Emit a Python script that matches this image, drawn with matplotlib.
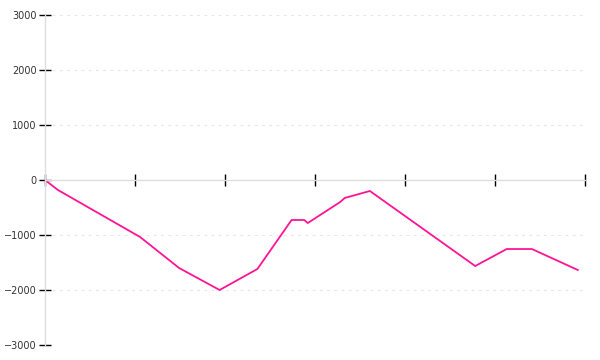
import matplotlib
matplotlib.use("Agg")
import matplotlib.pyplot as plt

# Data (x in arbitrary time units, 0..60; y values)
x_vals = [0, 1.44, 10.56, 14.9, 19.4, 23.6, 27.4, 28.8, 29.2, 32.8, 33.3, 36.1, 47.8, 51.3, 54.1, 59.2]
y_vals = [0, -182, -1036, -1600, -2000, -1618, -727, -727, -782, -400, -327, -200, -1564, -1255, -1255, -1636]
x_ticks = [0, 10, 20, 30, 40, 50, 60]
y_ticks = [-3000, -2000, -1000, 0, 1000, 2000, 3000]
y_tick_labels = ["\u22123000", "\u22122000", "\u22121000", "0", "1000", "2000", "3000"]

fig = plt.figure(figsize=(6, 3.6), dpi=100)
ax = fig.add_axes([45/600, 15/360, 540/600, 330/360])

ax.plot(x_vals, y_vals, color="#ff1493", linewidth=1.3, solid_joinstyle="miter")

ax.set_xlim(0, 60)
ax.set_ylim(-3000, 3000)

for v in y_ticks:
    if v != 0:
        ax.axhline(v, color="#e6e6e6", linewidth=0.8, linestyle=(0, (2.5, 4)), zorder=0, xmax=538/540)

for s in ["top", "right"]:
    ax.spines[s].set_visible(False)
ax.spines["bottom"].set_position(("data", 0))
ax.spines["bottom"].set_color("#dddddd")
ax.spines["left"].set_color("#dddddd")
ax.spines["bottom"].set_linewidth(1)
ax.spines["left"].set_linewidth(1)

ax.set_xticks(x_ticks)
ax.set_xticklabels([])
ax.tick_params(axis="x", direction="inout", length=8, width=1, color="black")
ax.set_yticks(y_ticks)
ax.set_yticklabels(y_tick_labels)
ax.tick_params(axis="y", direction="inout", length=8, width=1, color="black",
               labelsize=7, labelcolor="#333333", pad=2)
for lab in ax.get_yticklabels():
    lab.set_fontfamily("DejaVu Sans")

fig.savefig("out.png", dpi=100)
